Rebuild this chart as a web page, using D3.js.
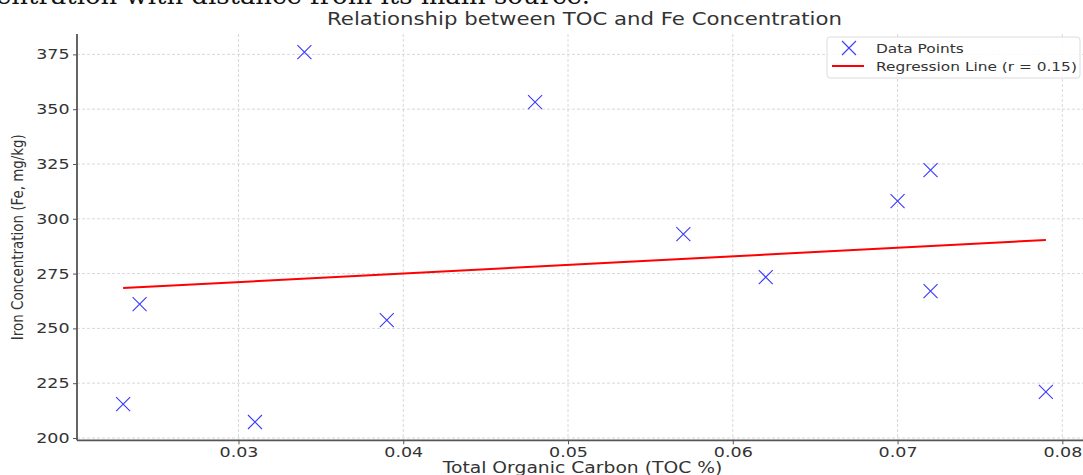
<!DOCTYPE html>
<html>
<head>
<meta charset="utf-8">
<script src="https://cdn.jsdelivr.net/npm/d3@7"></script>
<style>
  html, body { margin: 0; padding: 0; background: #fff; }
  svg { display: block; }
</style>
</head>
<body>
<div id="chart"></div>
<script>
// data
const toc = [0.023, 0.024, 0.031, 0.034, 0.039, 0.048, 0.057, 0.062, 0.070, 0.072, 0.072, 0.079];
const fe = [215.5, 261.1, 207.3, 376.0, 253.8, 353.2, 293.0, 273.4, 308.1, 322.2, 267.0, 221.0];
const regX = [0.023, 0.079];
const regY = [268.4, 290.3];
const xTicks = [0.03, 0.04, 0.05, 0.06, 0.07, 0.08];
const yTicks = [200, 225, 250, 275, 300, 325, 350, 375];

const width = 1083, height = 475;
const marginLeft = 77, marginTop = 34, plotBottom = 440.3;
const textColor = '#333';
const font = 'DejaVu Sans, sans-serif';
const sx = 1.25; // the source picture is stretched sideways

const x = d3.scaleLinear().domain([0.0202, 0.0818]).range([marginLeft, 1092]);
const y = d3.scaleLinear().domain([198.95, 384.3]).range([plotBottom, marginTop]);
const midX = (x.range()[0] + x.range()[1]) / 2;

const svg = d3.select('#chart').append('svg')
  .attr('width', width)
  .attr('height', height)
  .attr('viewBox', [0, 0, width, height]);

// cut-off caption from the page above the figure
svg.append('text')
  .attr('transform', 'translate(590,4) scale(1.08,1)')
  .attr('text-anchor', 'end')
  .attr('font-family', 'DejaVu Serif, serif')
  .attr('font-size', 24)
  .attr('fill', '#111')
  .text('Fe concentration with distance from its main source.');

// grid
const grid = svg.append('g')
  .attr('stroke', '#cfcfcf')
  .attr('stroke-width', 0.8)
  .attr('stroke-dasharray', '3,2');
grid.selectAll('.vx').data(xTicks).join('line')
  .attr('x1', d => x(d)).attr('x2', d => x(d))
  .attr('y1', marginTop).attr('y2', plotBottom);
grid.selectAll('.hy').data(yTicks).join('line')
  .attr('x1', marginLeft).attr('x2', width)
  .attr('y1', d => y(d)).attr('y2', d => y(d));

// axes
const xAxis = d3.axisBottom(x).tickValues(xTicks).tickFormat(d3.format('.2f')).tickSize(4).tickPadding(3);
const yAxis = d3.axisLeft(y).tickValues(yTicks).tickFormat(d3.format('d')).tickSize(4).tickPadding(2);

svg.append('g')
  .attr('transform', `translate(0,${plotBottom})`)
  .call(xAxis)
  .call(g => g.select('.domain').remove())
  .call(g => g.selectAll('.tick line').attr('stroke', '#555'))
  .call(g => g.selectAll('.tick text')
    .attr('transform', `scale(${sx},1)`)
    .attr('font-family', font).attr('font-size', 14).attr('fill', textColor));

svg.append('g')
  .attr('transform', `translate(${marginLeft},0)`)
  .call(yAxis)
  .call(g => g.select('.domain').remove())
  .call(g => g.selectAll('.tick line').attr('stroke', '#555'))
  .call(g => g.selectAll('.tick text')
    .attr('transform', `scale(${sx},1)`)
    .attr('font-family', font).attr('font-size', 14).attr('fill', textColor));

// spines (left + bottom)
svg.append('line')
  .attr('x1', marginLeft).attr('x2', marginLeft)
  .attr('y1', marginTop).attr('y2', plotBottom)
  .attr('stroke', '#555').attr('stroke-width', 1.8);
svg.append('line')
  .attr('x1', marginLeft).attr('x2', width)
  .attr('y1', plotBottom).attr('y2', plotBottom)
  .attr('stroke', '#555').attr('stroke-width', 1.8);

// regression line
svg.append('path')
  .attr('fill', 'none')
  .attr('stroke', '#ff0000')
  .attr('stroke-width', 2)
  .attr('d', d3.line().x(d => x(d[0])).y(d => y(d[1]))(d3.zip(regX, regY)));

// data points as x markers
const crossPath = 'M-7,-7L7,7M-7,7L7,-7';
svg.append('g')
  .attr('fill', 'none')
  .attr('stroke', '#3a3aff')
  .attr('stroke-width', 1.1)
  .selectAll('path')
  .data(d3.range(toc.length))
  .join('path')
  .attr('transform', i => `translate(${x(toc[i])},${y(fe[i])})`)
  .attr('d', crossPath);

// title
svg.append('text')
  .attr('transform', `translate(${midX},25) scale(${sx},1)`)
  .attr('text-anchor', 'middle')
  .attr('font-family', font)
  .attr('font-size', 17)
  .attr('fill', textColor)
  .text('Relationship between TOC and Fe Concentration');

// axis labels
svg.append('text')
  .attr('transform', `translate(${midX - 2},473) scale(${sx},1)`)
  .attr('text-anchor', 'middle')
  .attr('font-family', font)
  .attr('font-size', 15)
  .attr('fill', textColor)
  .text('Total Organic Carbon (TOC %)');

svg.append('text')
  .attr('transform', `translate(23,${(marginTop + plotBottom) / 2}) rotate(-90)`)
  .attr('text-anchor', 'middle')
  .attr('font-family', font)
  .attr('font-size', 15)
  .attr('fill', textColor)
  .attr('textLength', 206)
  .attr('lengthAdjust', 'spacingAndGlyphs')
  .text('Iron Concentration (Fe, mg/kg)');

// legend
const legend = svg.append('g').attr('transform', 'translate(827,37)');
legend.append('rect')
  .attr('width', 253).attr('height', 41)
  .attr('rx', 3)
  .attr('fill', '#fff').attr('fill-opacity', 0.85)
  .attr('stroke', '#dcdcdc');
legend.append('path')
  .attr('transform', 'translate(22,11)')
  .attr('d', crossPath)
  .attr('fill', 'none')
  .attr('stroke', '#3a3aff').attr('stroke-width', 1.1);
legend.append('line')
  .attr('x1', 5).attr('x2', 37).attr('y1', 29).attr('y2', 29)
  .attr('stroke', '#ff0000').attr('stroke-width', 2);
const labels = ['Data Points', 'Regression Line (r = 0.15)'];
legend.selectAll('.lab').data(labels).join('text')
  .attr('transform', (d, i) => `translate(49,${15.5 + i * 18}) scale(${sx},1)`)
  .attr('font-family', font)
  .attr('font-size', 12.3)
  .attr('fill', textColor)
  .text(d => d);
</script>
</body>
</html>
